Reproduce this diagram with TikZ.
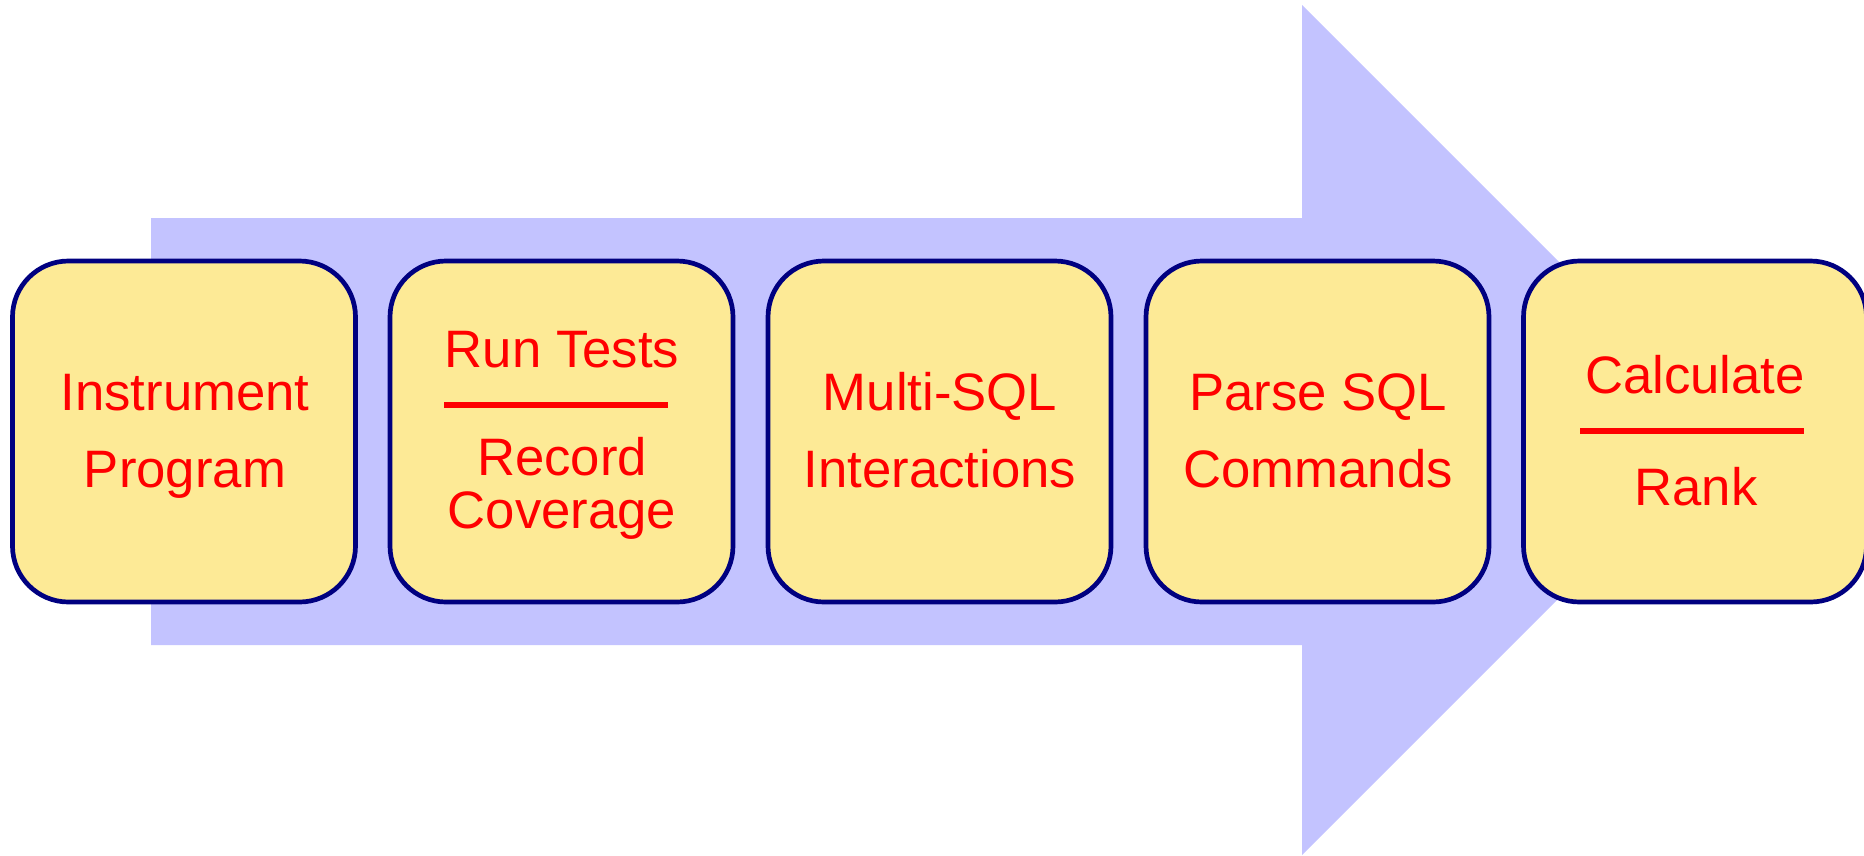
\documentclass[tikz,border=0pt]{standalone}
\usepackage{fontspec}
\setmainfont{Liberation Sans}
\definecolor{arrowblue}{RGB}{195,195,255}
\definecolor{boxfill}{RGB}{253,234,150}
\definecolor{boxline}{RGB}{0,0,128}
\definecolor{labelred}{RGB}{255,0,0}
\tikzset{
  stepbox/.style={draw=boxline, fill=boxfill, line width=4.7pt, rounded corners=56pt,
    minimum width=343pt, minimum height=341pt, inner sep=0pt},
  steptext/.style={text=labelred, anchor=base, inner sep=0pt,
    font=\fontsize{52.7}{64}\selectfont},
  divider/.style={draw=labelred, line width=5.5pt},
}
\begin{document}
\begin{tikzpicture}[x=1pt, y=-1pt]
  \useasboundingbox (0,0) rectangle (1864,855);

  % big background arrow
  \fill[arrowblue] (151,218) -- (1302,218) -- (1302,5) -- (1727,430)
    -- (1302,855) -- (1302,645) -- (151,645) -- cycle;

  % process steps
  \node[stepbox] (b1) at (184,431.5) {};
  \node[stepbox] (b2) at (561.5,431.5) {};
  \node[stepbox] (b3) at (939.5,431.5) {};
  \node[stepbox] (b4) at (1317.5,431.5) {};
  \node[stepbox] (b5) at (1695,431.5) {};

  % step 1
  \node[steptext] (t1a) at (185,410) {Instrument};
  \node[steptext] (t1b) at (185,487) {Program};

  % step 2
  \node[steptext] (t2a) at (562,367) {Run Tests};
  \draw[divider] (444,405) -- (668,405);
  \node[steptext] (t2b) at (562,475) {Record};
  \node[steptext] (t2c) at (562,528) {Coverage};

  % step 3
  \node[steptext] (t3a) at (940,410) {Multi-SQL};
  \node[steptext] (t3b) at (940,487) {Interactions};

  % step 4
  \node[steptext] (t4a) at (1318,410) {Parse SQL};
  \node[steptext] (t4b) at (1318,487) {Commands};

  % step 5
  \node[steptext] (t5a) at (1695,393) {Calculate};
  \draw[divider] (1580,431) -- (1804,431);
  \node[steptext] (t5b) at (1696,505) {Rank};
\end{tikzpicture}
\end{document}
